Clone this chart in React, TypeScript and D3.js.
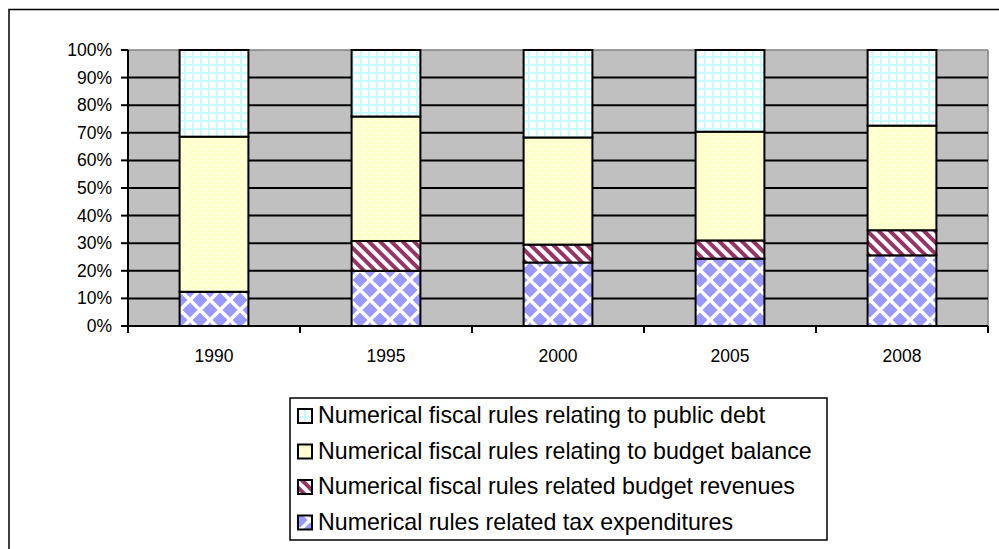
import React from "react";
import * as d3 from "d3";

const categories = ["1990", "1995", "2000", "2005", "2008"];
const taxExpenditures = [12.4, 20.0, 23.0, 24.4, 25.6];
const budgetRevenues = [0, 10.8, 6.5, 6.6, 9.1];
const budgetBalance = [56.2, 45.1, 38.8, 39.4, 37.9];
const publicDebt = [31.4, 24.1, 31.7, 29.6, 27.4];
const yTicks = [0, 10, 20, 30, 40, 50, 60, 70, 80, 90, 100];

const seriesKeys = ["tax", "rev", "bal", "debt"];
const seriesNames: Record<string, string> = {
  debt: "Numerical fiscal rules relating to public debt",
  bal: "Numerical fiscal rules relating to budget balance",
  rev: "Numerical fiscal rules related budget revenues",
  tax: "Numerical rules related tax expenditures",
};
const legendOrder = ["debt", "bal", "rev", "tax"];
const fills: Record<string, string> = {
  debt: "url(#pDebt)",
  bal: "url(#pBal)",
  rev: "url(#pRev)",
  tax: "url(#pTax)",
};

const FONT = "'Liberation Sans', Arial, sans-serif";

export default function App() {
  const W = 999, H = 549;
  const x0 = 128, x1 = 988, yTop = 50, yBot = 326;

  const rows = categories.map((c, i) => ({
    cat: c,
    tax: taxExpenditures[i],
    rev: budgetRevenues[i],
    bal: budgetBalance[i],
    debt: publicDebt[i],
  }));
  const stack = d3.stack<any>().keys(seriesKeys);
  const stacked = stack(rows);

  const x = d3.scaleBand().domain(categories).range([x0, x1]).paddingInner(0.6).paddingOuter(0.3);
  const y = d3.scaleLinear().domain([0, 100]).range([yBot, yTop]);
  const step = (x1 - x0) / categories.length;
  const xTickPos = d3.range(categories.length + 1).map((i) => x0 + i * step);

  return (
    <div style={{ position: "fixed", left: 0, top: 0, width: W, height: H, background: "#fff" }}>
      <svg width={W} height={H} style={{ display: "block" }}>
        <defs>
          <pattern id="pDebt" patternUnits="userSpaceOnUse" width={8} height={8}>
            <rect width={8} height={8} fill="#c8fcfc" />
            <rect x={2} y={2} width={6} height={6} fill="#ffffff" />
          </pattern>
          <pattern id="pBal" patternUnits="userSpaceOnUse" width={8} height={8}>
            <rect width={8} height={8} fill="#ffffcc" />
            <rect x={0} y={0} width={2} height={2} fill="#ffffff" opacity={0.6} />
            <rect x={4} y={4} width={2} height={2} fill="#ffffff" opacity={0.6} />
          </pattern>
          <pattern id="pRev" patternUnits="userSpaceOnUse" width={8} height={8} patternTransform="rotate(-45)">
            <rect width={8} height={8} fill="#ffffff" />
            <rect width={4} height={8} fill="#993366" />
          </pattern>
          <pattern id="pTax" patternUnits="userSpaceOnUse" width={20} height={20}>
            <rect width={20} height={20} fill="#ffffff" />
            <path d="M10,2.5 L17.5,10 L10,17.5 L2.5,10 Z" fill="#9999ff" />
            <path d="M0,0 L7.5,0 L0,7.5 Z M20,0 L12.5,0 L20,7.5 Z M0,20 L7.5,20 L0,12.5 Z M20,20 L12.5,20 L20,12.5 Z" fill="#9999ff" />
          </pattern>
        </defs>

        {/* outer chart border */}
        <rect x={9} y={9.5} width={1000} height={560} fill="#fff" stroke="#000" strokeWidth={1.5} />

        {/* plot area */}
        <rect x={x0} y={yTop} width={x1 - x0} height={yBot - yTop} fill="#c0c0c0" />
        <line x1={x0} x2={x1} y1={yTop} y2={yTop} stroke="#808080" strokeWidth={1.5} />
        <line x1={x1} x2={x1} y1={yTop} y2={yBot} stroke="#808080" strokeWidth={1.5} />

        {/* gridlines */}
        {yTicks.filter((t) => t > 0 && t < 100).map((t) => (
          <line key={t} x1={x0} x2={x1} y1={y(t)} y2={y(t)} stroke="#000" strokeWidth={2} />
        ))}

        {/* bars */}
        {stacked.map((s) => (
          <g key={s.key}>
            {s.map((d, i) => (
              <rect
                key={i}
                x={x(categories[i])}
                width={x.bandwidth()}
                y={y(d[1])}
                height={y(d[0]) - y(d[1])}
                fill={fills[s.key]}
                stroke="#000"
                strokeWidth={2}
              />
            ))}
          </g>
        ))}

        {/* y axis */}
        <line x1={x0} x2={x0} y1={yTop} y2={yBot} stroke="#000" strokeWidth={2} />
        {yTicks.map((t) => (
          <g key={t}>
            <line x1={x0 - 7} x2={x0} y1={y(t)} y2={y(t)} stroke="#000" strokeWidth={2} />
            <text x={112} y={y(t) + 6} textAnchor="end" fontFamily={FONT} fontSize={17.5} fill="#000">
              {t + "%"}
            </text>
          </g>
        ))}

        {/* x axis */}
        <line x1={x0} x2={x1} y1={yBot} y2={yBot} stroke="#000" strokeWidth={2} />
        {xTickPos.map((p, i) => (
          <line key={i} x1={p} x2={p} y1={yBot} y2={yBot + 7} stroke="#000" strokeWidth={2} />
        ))}
        {categories.map((c) => (
          <text key={c} x={(x(c) as number) + x.bandwidth() / 2} y={362} textAnchor="middle" fontFamily={FONT} fontSize={17.5} fill="#000">
            {c}
          </text>
        ))}

        {/* legend */}
        <rect x={290} y={398} width={537} height={142} fill="#fff" stroke="#000" strokeWidth={1.5} />
        {legendOrder.map((k, i) => {
          const by = 423 + i * 35.5;
          return (
            <g key={k}>
              <rect x={298} y={by - 14} width={14} height={14} fill={fills[k]} stroke="#000" strokeWidth={2} />
              <text x={318} y={by} fontFamily={FONT} fontSize={23.2} fill="#000">
                {seriesNames[k]}
              </text>
            </g>
          );
        })}
      </svg>
    </div>
  );
}
